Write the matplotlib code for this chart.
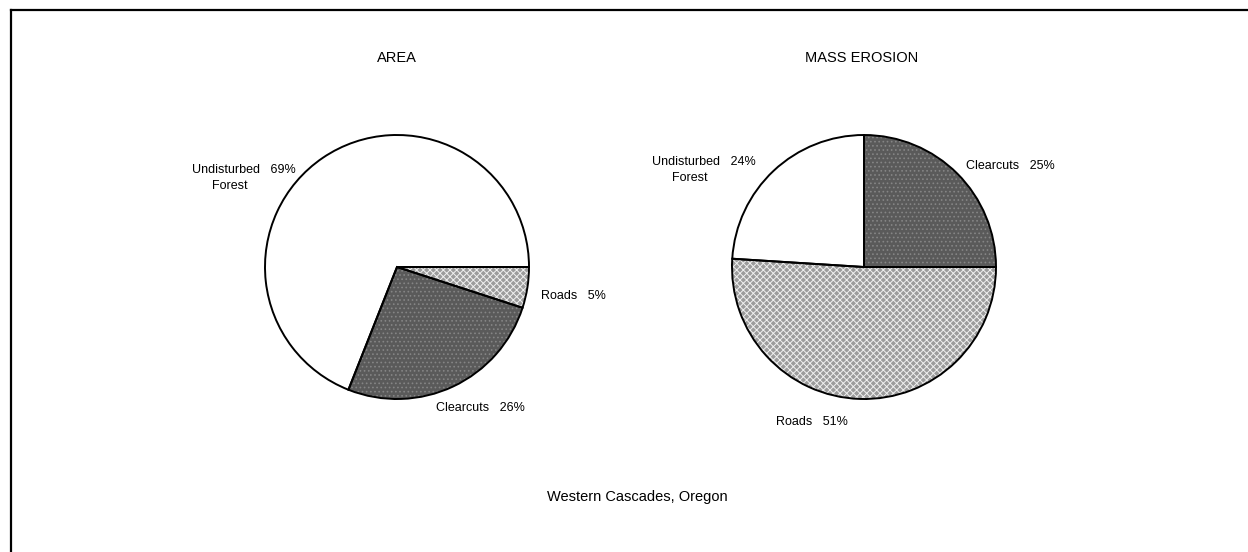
import matplotlib
matplotlib.use("Agg")
import matplotlib.pyplot as plt
from matplotlib.lines import Line2D

# Data
categories_area = ["Roads", "Clearcuts", "Undisturbed\nForest"]
values_area = [5, 26, 69]
categories_erosion = ["Clearcuts", "Roads", "Undisturbed\nForest"]
values_erosion = [25, 51, 24]

titles = ["AREA", "MASS EROSION"]
caption = "Western Cascades, Oregon"

# Fill styles per category (face, hatch, hatch colour)
styles = {
    "Roads": ("#9c9c9c", "xxxxx", "#f0f0f0"),
    "Clearcuts": ("#5a5a5a", "....", "#858585"),
    "Undisturbed\nForest": ("#ffffff", "", "#ffffff"),
}

H = 552
plt.rcParams["font.family"] = ["Liberation Sans", "DejaVu Sans"]
plt.rcParams["hatch.linewidth"] = 0.7

fig = plt.figure(figsize=(12.48, 5.52), dpi=100)
ax = fig.add_axes([0, 0, 1, 1])


def draw_pie(cats, vals, center, start, label_pos):
    faces = [styles[c][0] for c in cats]
    wedges, _ = ax.pie(vals, colors=faces, startangle=start, counterclock=False,
                       center=center, radius=132, frame=True,
                       wedgeprops=dict(linewidth=0))
    for w, c in zip(wedges, cats):
        w.set_hatch(styles[c][1])
        w.set_edgecolor(styles[c][2])
    ax.pie(vals, startangle=start, counterclock=False, center=center,
           radius=132, frame=True,
           wedgeprops=dict(fill=False, edgecolor="black", linewidth=1.4))
    # labels
    for c, v, (lx, ly) in zip(cats, vals, label_pos):
        lines = c.split("\n")
        ax.text(lx, H - ly, f"{lines[0]}   {v}%", fontsize=9,
                ha="left", va="center")
        for k, extra in enumerate(lines[1:]):
            ax.text(lx + 38, H - ly - 16 * (k + 1), extra, fontsize=9,
                    ha="center", va="center")


draw_pie(categories_area, values_area, (397, H - 267), 0,
         [(541, 296), (436, 408), (192, 170)])
draw_pie(categories_erosion, values_erosion, (864, H - 267), 90,
         [(966, 166), (776, 422), (652, 162)])

ax.set_xlim(0, 1248)
ax.set_ylim(0, H)
ax.set_aspect("equal")
ax.axis("off")

ax.text(397, H - 58, titles[0], fontsize=10.5, ha="center", va="center")
ax.text(862, H - 58, titles[1], fontsize=10.5, ha="center", va="center")
ax.text(637, H - 497, caption, fontsize=10.5, ha="center", va="center")

# partial frame: top and left edges only
fig.add_artist(Line2D([11 / 1248, 1], [1 - 10 / H, 1 - 10 / H],
                      transform=fig.transFigure, color="black", linewidth=1.6))
fig.add_artist(Line2D([11 / 1248, 11 / 1248], [0, 1 - 10 / H],
                      transform=fig.transFigure, color="black", linewidth=1.6))

fig.savefig("out.png", dpi=100, facecolor="white")
